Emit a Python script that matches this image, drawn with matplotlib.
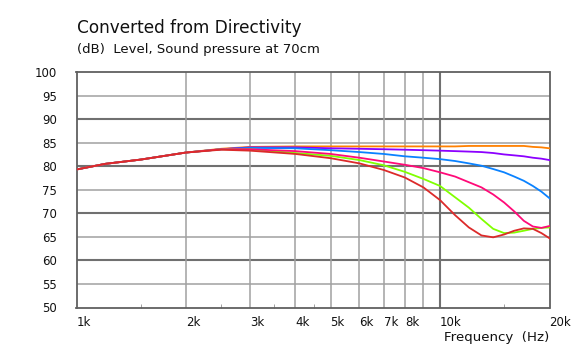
import matplotlib
matplotlib.use("Agg")
from matplotlib import pyplot as plt
from matplotlib.ticker import FixedLocator, NullFormatter
import numpy as np

freqs = [1000, 1200, 1500, 2000, 2500, 3000, 4000, 5000, 6000, 7000, 8000, 9000,
         10000, 11000, 12000, 13000, 14000, 15000, 16000, 17000, 18000, 19000, 20000]

orange = [79.3, 80.5, 81.4, 82.9, 83.7, 84.1, 84.2, 84.2, 84.2, 84.2, 84.2, 84.2,
          84.2, 84.2, 84.3, 84.3, 84.3, 84.3, 84.3, 84.3, 84.1, 84.0, 83.8]
purple = [79.3, 80.5, 81.4, 82.9, 83.6, 84.0, 84.0, 83.8, 83.7, 83.6, 83.5, 83.4,
          83.3, 83.2, 83.1, 83.0, 82.8, 82.5, 82.3, 82.1, 81.8, 81.6, 81.3]
blue = [79.3, 80.5, 81.4, 82.9, 83.6, 83.9, 83.8, 83.4, 83.0, 82.6, 82.1, 81.8,
        81.5, 81.1, 80.6, 80.1, 79.4, 78.7, 77.8, 76.9, 75.8, 74.6, 73.2]
green = [79.3, 80.5, 81.4, 82.9, 83.6, 83.6, 82.8, 82.2, 81.3, 80.2, 78.8, 77.3,
         75.8, 73.4, 71.2, 68.8, 66.7, 65.8, 65.9, 66.3, 66.7, 66.9, 67.0]
pink = [79.3, 80.5, 81.4, 82.9, 83.6, 83.6, 83.2, 82.6, 81.8, 81.0, 80.3, 79.6,
        78.7, 77.8, 76.6, 75.5, 74.0, 72.3, 70.4, 68.4, 67.2, 66.9, 67.3]
red = [79.3, 80.5, 81.4, 82.9, 83.5, 83.3, 82.6, 81.7, 80.6, 79.2, 77.6, 75.5,
       72.8, 69.6, 67.0, 65.3, 64.9, 65.5, 66.3, 66.8, 66.7, 65.8, 64.7]

series = [
    (orange, "#ff8000"),
    (purple, "#8c00ff"),
    (blue, "#0a82ff"),
    (green, "#80ff00"),
    (pink, "#ff0a78"),
    (red, "#dc2a2a"),
]

x_ticks = [1000, 2000, 3000, 4000, 5000, 6000, 7000, 8000, 10000, 20000]
x_labels = ["1k", "2k", "3k", "4k", "5k", "6k", "7k", "8k", "10k", "20k"]
x_minor_ticks = [1500, 2500, 3500, 4500, 15000]
y_ticks = [50, 55, 60, 65, 70, 75, 80, 85, 90, 95, 100]

fig = plt.figure(figsize=(5.78, 3.51), dpi=100)
ax = fig.add_axes([76.5 / 578, 43.5 / 351, 473 / 578, 235.5 / 351])
ax.set_xscale("log")
ax.set_xlim(1000, 20000)
ax.set_ylim(50, 100)

# grid lines
for v in y_ticks[1:-1]:
    major = v % 10 == 0
    ax.axhline(v, color="#707070" if major else "#a0a0a0",
               lw=1.5 if major else 1.1, zorder=1)
for f in [2000, 3000, 4000, 5000, 6000, 7000, 8000, 9000, 10000]:
    major = f == 10000
    ax.axvline(f, color="#707070" if major else "#a0a0a0",
               lw=1.5 if major else 1.1, zorder=1)

for vals, col in series:
    ax.plot(freqs, vals, color=col, lw=1.3, zorder=3)

for s in ax.spines.values():
    s.set_color("#606060")
    s.set_linewidth(1.3)

ax.xaxis.set_major_locator(FixedLocator(x_ticks))
ax.set_xticklabels(x_labels, ha="left")
ax.xaxis.set_minor_locator(FixedLocator(x_minor_ticks))
ax.xaxis.set_minor_formatter(NullFormatter())
ax.tick_params(axis="x", which="major", length=0, pad=6, labelsize=8.5, labelcolor="#111111")
ax.tick_params(axis="x", which="minor", direction="in", length=3, color="#909090")
ax.set_yticks(y_ticks)
ax.tick_params(axis="y", length=0, pad=14, labelsize=8.5, labelcolor="#111111")

fig.text(77 / 578, 1 - 28 / 351, "Converted from Directivity", fontsize=12.2,
         va="center", ha="left", color="#111111")
fig.text(77 / 578, 1 - 49 / 351, "(dB)  Level, Sound pressure at 70cm", fontsize=9.5,
         va="center", ha="left", color="#111111")
fig.text(549 / 578, 1 - 338 / 351, "Frequency  (Hz)", fontsize=9.6,
         va="center", ha="right", color="#111111")

fig.savefig("out.png", dpi=100)
